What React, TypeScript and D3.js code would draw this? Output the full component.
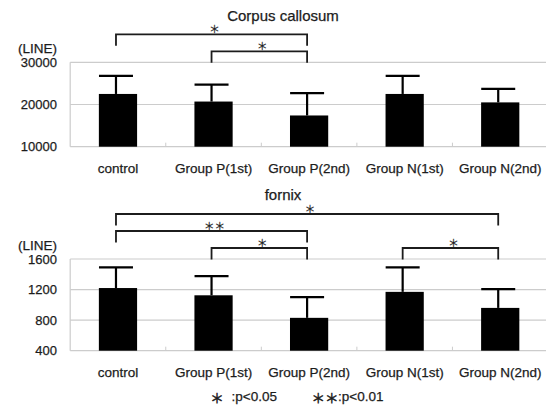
import React from 'react';
import * as d3 from 'd3';

// values
const categories = ['control', 'Group P(1st)', 'Group P(2nd)', 'Group N(1st)', 'Group N(2nd)'];

const ccMeans = [22500, 20700, 17400, 22500, 20500];
const ccSD = [4300, 4000, 5300, 4300, 3200];
const ccTicks = [10000, 20000, 30000];
const ccBrackets = [
  { from: 0, to: 2, level: 1, mark: '＊' },
  { from: 1, to: 2, level: 0, mark: '＊' },
];

const fxMeans = [1220, 1125, 830, 1170, 960];
const fxSD = [270, 250, 270, 320, 245];
const fxTicks = [400, 800, 1200, 1600];
const fxBrackets = [
  { from: 0, to: 4, level: 2, mark: '＊' },
  { from: 0, to: 2, level: 1, mark: '＊＊' },
  { from: 1, to: 2, level: 0, mark: '＊' },
  { from: 3, to: 4, level: 0, mark: '＊' },
];

const legend = [
  { mark: '＊', text: ':p<0.05' },
  { mark: '＊＊', text: ':p<0.01' },
];

const W = 546;
const H = 406;
const font = '"Liberation Sans", Arial, sans-serif';
const starFont = '"Noto Sans CJK JP", "DejaVu Sans", sans-serif';
const grid = '#cccccc';
const ink = '#1c1c1c';
// a hair of stroke so the text looks as heavy as the scanned original
const heavy = { stroke: ink, strokeWidth: 0.25 };

const x = d3.scaleBand<string>()
  .domain(categories)
  .range([70.2, 548])
  .paddingInner(0.6)
  .paddingOuter(0.3);

interface PanelProps {
  title: string;
  titleY: number;
  means: number[];
  sd: number[];
  ticks: number[];
  top: number;
  bottom: number;
  brackets: { from: number; to: number; level: number; mark: string }[];
}

function Panel({ title, titleY, means, sd, ticks, top, bottom, brackets }: PanelProps) {
  const y = d3.scaleLinear()
    .domain([ticks[0], ticks[ticks.length - 1]])
    .range([bottom, top]);
  const [x0] = x.range();
  const cx = (i: number) => (x(categories[i]) as number) + x.bandwidth() / 2 - 2;
  const step = x.step();

  return (
    <g>
      <text x={283} y={titleY} textAnchor="middle" fontSize={15} fontFamily={font} fill={ink} {...heavy}>
        {title}
      </text>

      {/* grid */}
      {ticks.map(t => (
        <line key={t} x1={x0} x2={W} y1={y(t)} y2={y(t)} stroke={grid} strokeWidth={1.2} />
      ))}
      <line x1={x0} x2={x0} y1={top} y2={bottom} stroke={grid} strokeWidth={1.2} />
      {categories.slice(1).map(c => {
        const bx = (x(c) as number) - step * 0.3;
        return <line key={c} x1={bx} x2={bx} y1={bottom} y2={bottom - 4} stroke={grid} strokeWidth={1} />;
      })}

      {/* tick labels */}
      {ticks.map(t => (
        <text key={t} x={57} y={y(t) + 4.7} textAnchor="end" fontSize={13} fontFamily={font} fill={ink} {...heavy}>
          {t}
        </text>
      ))}
      <text x={57} y={top - 9.3} textAnchor="end" fontSize={13.5} fontFamily={font} fill={ink} {...heavy}>
        (LINE)
      </text>

      {/* bars + error bars */}
      {categories.map((c, i) => {
        const bx = x(c) as number;
        const yTop = y(means[i]);
        const yErr = y(means[i] + sd[i]);
        const ex = cx(i);
        return (
          <g key={c}>
            <rect x={bx} y={yTop} width={x.bandwidth()} height={bottom - yTop} fill="#000" />
            <line x1={ex} x2={ex} y1={yTop} y2={yErr} stroke="#000" strokeWidth={2.2} />
            <line x1={ex - 17} x2={ex + 17} y1={yErr} y2={yErr} stroke="#000" strokeWidth={2.2} />
          </g>
        );
      })}

      {/* category labels */}
      {categories.map(c => (
        <text key={c} x={(x(c) as number) + x.bandwidth() / 2} y={bottom + 25.8}
          textAnchor="middle" fontSize={13.5} fontFamily={font} fill={ink} {...heavy}>
          {c}
        </text>
      ))}

      {/* significance brackets */}
      {brackets.map((b, i) => {
        const by = top - 11 - b.level * 17;
        const xa = cx(b.from);
        const xb = cx(b.to);
        return (
          <g key={i}>
            <path d={`M${xa},${by + 11.5}V${by}H${xb}V${by + 11.5}`} fill="none" stroke={ink} strokeWidth={1.8} />
            <text x={(xa + xb) / 2 + 3} y={by - 6} textAnchor="middle" dominantBaseline="central"
              fontSize={10.5} fontFamily={starFont} fill={ink} {...heavy}>
              {b.mark}
            </text>
          </g>
        );
      })}
    </g>
  );
}

export default function App() {
  return (
    <svg width={W} height={H} viewBox={`0 0 ${W} ${H}`}
      style={{ position: 'absolute', left: 0, top: 0, background: '#fff' }}>
      <rect width={W} height={H} fill="#fff" />
      <Panel title="Corpus callosum" titleY={21} means={ccMeans} sd={ccSD} ticks={ccTicks}
        top={62.3} bottom={146.7} brackets={ccBrackets} />
      <Panel title="fornix" titleY={199.5} means={fxMeans} sd={fxSD} ticks={fxTicks}
        top={259} bottom={350.7} brackets={fxBrackets} />

      {/* legend */}
      <g>
        <text x={217} y={397} textAnchor="middle" dominantBaseline="central" fontSize={13.5}
          fontFamily={starFont} fill={ink} stroke={ink} strokeWidth={0.5}>
          {legend[0].mark}
        </text>
        <text x={231.5} y={401} fontSize={13.5} fontFamily={font} fill={ink} {...heavy}>{legend[0].text}</text>
        <text x={325} y={397} textAnchor="middle" dominantBaseline="central" fontSize={13.5}
          fontFamily={starFont} fill={ink} stroke={ink} strokeWidth={0.5}>
          {legend[1].mark}
        </text>
        <text x={338} y={401} fontSize={13.5} fontFamily={font} fill={ink} {...heavy}>{legend[1].text}</text>
      </g>
    </svg>
  );
}
